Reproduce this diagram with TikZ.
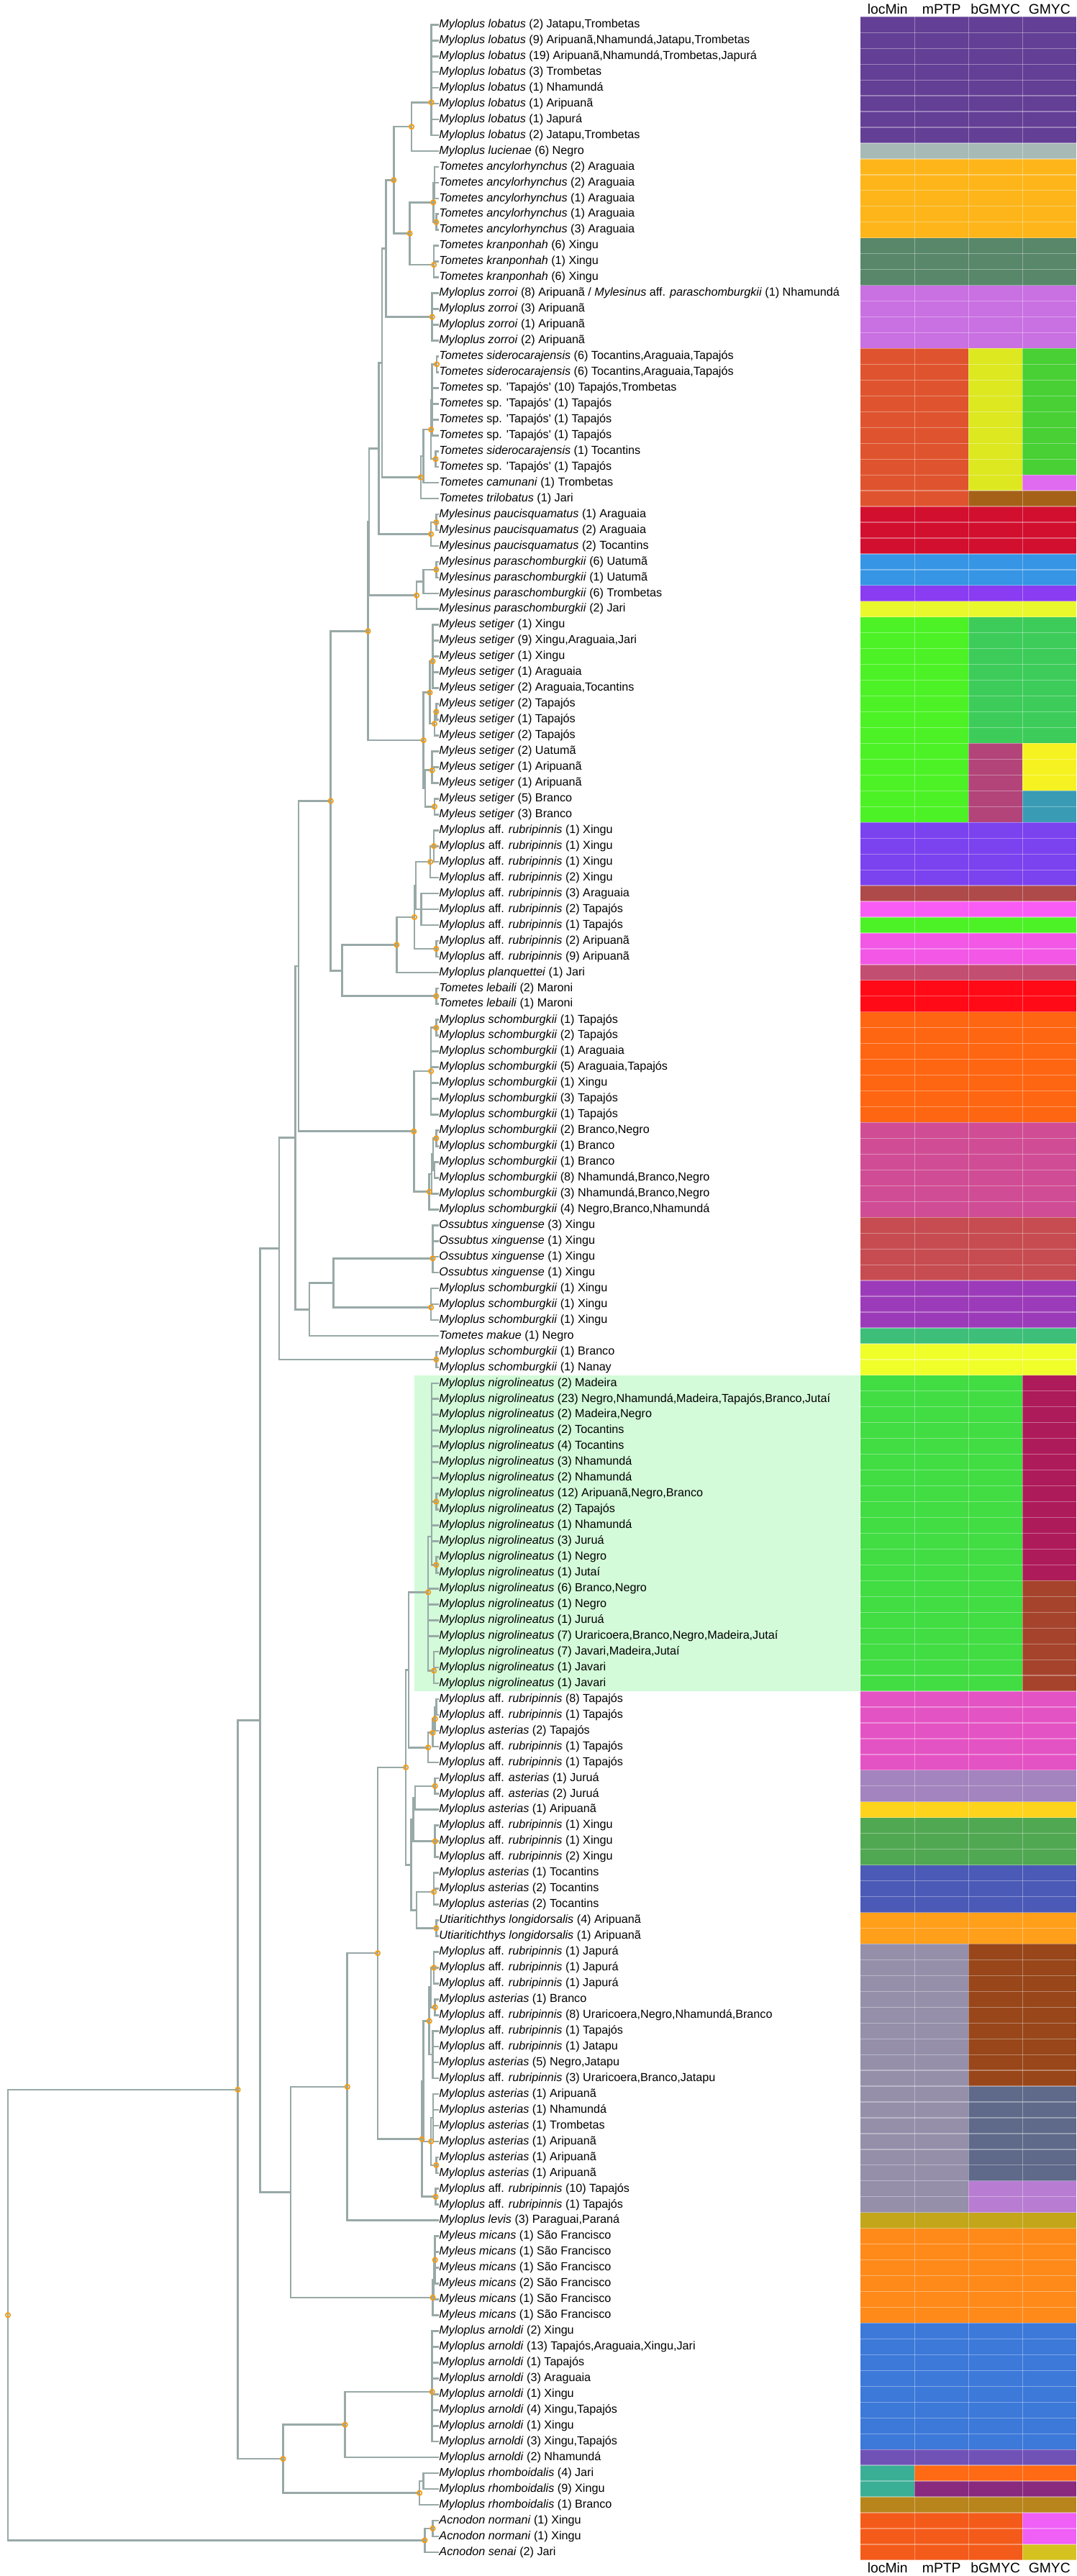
\documentclass[tikz,border=0pt]{standalone}
\usepackage{fontspec}
\setmainfont{Liberation Sans}
\usetikzlibrary{arrows.meta}
\definecolor{branch}{HTML}{98A9A7}
\definecolor{dotorange}{HTML}{F39C12}
\definecolor{hilite}{HTML}{D3FAD9}
\definecolor{cLob}{HTML}{643F96}
\definecolor{cLuc}{HTML}{A7BAB6}
\definecolor{cAnc}{HTML}{FDB51A}
\definecolor{cKra}{HTML}{58876A}
\definecolor{cZor}{HTML}{C970E2}
\definecolor{cSidA}{HTML}{DF542E}
\definecolor{cSidB}{HTML}{DDE820}
\definecolor{cSidC}{HTML}{48D035}
\definecolor{cCam}{HTML}{E06AF0}
\definecolor{cTri}{HTML}{A66119}
\definecolor{cPau}{HTML}{D20F2F}
\definecolor{cPaU}{HTML}{3695E4}
\definecolor{cPaT}{HTML}{8A3CF2}
\definecolor{cPaJ}{HTML}{E8F82C}
\definecolor{cSetA}{HTML}{4CF225}
\definecolor{cSetB}{HTML}{3DCC5A}
\definecolor{cSetR}{HTML}{B2447A}
\definecolor{cSetY}{HTML}{F6F221}
\definecolor{cSetT}{HTML}{3A9BB4}
\definecolor{cRubX}{HTML}{7B42EF}
\definecolor{cRubA}{HTML}{AE4A4A}
\definecolor{cRubT}{HTML}{F95CF4}
\definecolor{cRubR}{HTML}{F257E6}
\definecolor{cPla}{HTML}{C24E72}
\definecolor{cLeb}{HTML}{FF0A16}
\definecolor{cSchO}{HTML}{FF6612}
\definecolor{cSchP}{HTML}{D04D95}
\definecolor{cOss}{HTML}{C74C51}
\definecolor{cSchX}{HTML}{9C3BB9}
\definecolor{cMak}{HTML}{3DBE79}
\definecolor{cSchY}{HTML}{F0FE2A}
\definecolor{cNigG}{HTML}{41DD43}
\definecolor{cNigM}{HTML}{AE1B5A}
\definecolor{cNigB}{HTML}{A6432C}
\definecolor{cPk}{HTML}{E453C4}
\definecolor{cAsJ}{HTML}{A384BE}
\definecolor{cAsY}{HTML}{FED31C}
\definecolor{cRubXG}{HTML}{51A852}
\definecolor{cAsT}{HTML}{4B5AB6}
\definecolor{cUti}{HTML}{FF9F1A}
\definecolor{cGrey}{HTML}{958FAA}
\definecolor{cBrn}{HTML}{98461A}
\definecolor{cSlate}{HTML}{5F6A8A}
\definecolor{cLil}{HTML}{B87DD2}
\definecolor{cLev}{HTML}{C3A619}
\definecolor{cMic}{HTML}{FF8A1A}
\definecolor{cArn}{HTML}{3C79D9}
\definecolor{cArnN}{HTML}{7052B7}
\definecolor{cRhT}{HTML}{3BAE96}
\definecolor{cRhO}{HTML}{FF6A14}
\definecolor{cRhP}{HTML}{892A7F}
\definecolor{cRhB}{HTML}{B7851B}
\definecolor{cAcn}{HTML}{F45B1A}
\definecolor{cAcnP}{HTML}{F05FF6}
\definecolor{cAcnY}{HTML}{D5C21F}

\newcommand{\tips}[2]{\foreach \i in {#2} {\draw[br] (#1) |- (t\i.west);}}
\newcommand{\kids}[2]{\foreach \c in {#2} {\draw[br] (#1) |- (\c);}}

\begin{document}
\begin{tikzpicture}[
    x=0.02cm, y=-0.4392cm,
    br/.style={draw=branch, line width=1.5pt},
    lab/.style={anchor=west, inner sep=0pt, font=\fontsize{9.2pt}{11pt}\selectfont},
    hdr/.style={anchor=base, inner sep=0pt, font=\fontsize{11pt}{13pt}\selectfont},
    dot/.style={circle, draw=dotorange, line width=1pt, inner sep=0pt, minimum size=3.6pt},
    grid/.style={draw=white, draw opacity=0.35, line width=0.7pt}
  ]
  \useasboundingbox (0,-0.561) rectangle (1496,162.51);

  % highlighted clade
  \fill[hilite] (576,86.5) rectangle (1195,106.5);

  % delimitation columns
  \fill[cLob]  (1196,0.5) rectangle (1496,8.5);
  \fill[cLuc]  (1196,8.5) rectangle (1496,9.5);
  \fill[cAnc]  (1196,9.5) rectangle (1496,14.5);
  \fill[cKra]  (1196,14.5) rectangle (1496,17.5);
  \fill[cZor]  (1196,17.5) rectangle (1496,21.5);
  \fill[cSidA] (1196,21.5) rectangle (1346,31.5);
  \fill[cSidB] (1346,21.5) rectangle (1421,30.5);
  \fill[cSidC] (1421,21.5) rectangle (1496,29.5);
  \fill[cCam]  (1421,29.5) rectangle (1496,30.5);
  \fill[cTri]  (1346,30.5) rectangle (1496,31.5);
  \fill[cPau]  (1196,31.5) rectangle (1496,34.5);
  \fill[cPaU]  (1196,34.5) rectangle (1496,36.5);
  \fill[cPaT]  (1196,36.5) rectangle (1496,37.5);
  \fill[cPaJ]  (1196,37.5) rectangle (1496,38.5);
  \fill[cSetA] (1196,38.5) rectangle (1346,51.5);
  \fill[cSetB] (1346,38.5) rectangle (1496,46.5);
  \fill[cSetR] (1346,46.5) rectangle (1421,51.5);
  \fill[cSetY] (1421,46.5) rectangle (1496,49.5);
  \fill[cSetT] (1421,49.5) rectangle (1496,51.5);
  \fill[cRubX] (1196,51.5) rectangle (1496,55.5);
  \fill[cRubA] (1196,55.5) rectangle (1496,56.5);
  \fill[cRubT] (1196,56.5) rectangle (1496,57.5);
  \fill[cSetA] (1196,57.5) rectangle (1496,58.5);
  \fill[cRubR] (1196,58.5) rectangle (1496,60.5);
  \fill[cPla]  (1196,60.5) rectangle (1496,61.5);
  \fill[cLeb]  (1196,61.5) rectangle (1496,63.5);
  \fill[cSchO] (1196,63.5) rectangle (1496,70.5);
  \fill[cSchP] (1196,70.5) rectangle (1496,76.5);
  \fill[cOss]  (1196,76.5) rectangle (1496,80.5);
  \fill[cSchX] (1196,80.5) rectangle (1496,83.5);
  \fill[cMak]  (1196,83.5) rectangle (1496,84.5);
  \fill[cSchY] (1196,84.5) rectangle (1496,86.5);
  \fill[cNigG] (1196,86.5) rectangle (1421,106.5);
  \fill[cNigM] (1421,86.5) rectangle (1496,99.5);
  \fill[cNigB] (1421,99.5) rectangle (1496,106.5);
  \fill[cPk]   (1196,106.5) rectangle (1496,111.5);
  \fill[cAsJ]  (1196,111.5) rectangle (1496,113.5);
  \fill[cAsY]  (1196,113.5) rectangle (1496,114.5);
  \fill[cRubXG] (1196,114.5) rectangle (1496,117.5);
  \fill[cAsT]  (1196,117.5) rectangle (1496,120.5);
  \fill[cUti]  (1196,120.5) rectangle (1496,122.5);
  \fill[cGrey] (1196,122.5) rectangle (1346,139.5);
  \fill[cBrn]  (1346,122.5) rectangle (1496,131.5);
  \fill[cSlate] (1346,131.5) rectangle (1496,137.5);
  \fill[cLil]  (1346,137.5) rectangle (1496,139.5);
  \fill[cLev]  (1196,139.5) rectangle (1496,140.5);
  \fill[cMic]  (1196,140.5) rectangle (1496,146.5);
  \fill[cArn]  (1196,146.5) rectangle (1496,154.5);
  \fill[cArnN] (1196,154.5) rectangle (1496,155.5);
  \fill[cRhT]  (1196,155.5) rectangle (1271,157.5);
  \fill[cRhO]  (1271,155.5) rectangle (1496,156.5);
  \fill[cRhP]  (1271,156.5) rectangle (1496,157.5);
  \fill[cRhB]  (1196,157.5) rectangle (1496,158.5);
  \fill[cAcn]  (1196,158.5) rectangle (1421,161.5);
  \fill[cAcnP] (1421,158.5) rectangle (1496,160.5);
  \fill[cAcnY] (1421,160.5) rectangle (1496,161.5);
  \foreach \r in {0,...,161} \draw[grid] (1196,\r+0.5) -- (1496,\r+0.5);
  \foreach \xc in {1271,1346,1421} \draw[grid] (\xc,0.5) -- (\xc,161.5);

  % column headers
  \node[hdr] (hl1) at (1233.5,0.35) {locMin};
  \node[hdr] (hm1) at (1308.5,0.35) {mPTP};
  \node[hdr] (hb1) at (1383.5,0.35) {bGMYC};
  \node[hdr] (hg1) at (1458.5,0.35) {GMYC};
  \node[hdr] (hl2) at (1233.5,162.3) {locMin};
  \node[hdr] (hm2) at (1308.5,162.3) {mPTP};
  \node[hdr] (hb2) at (1383.5,162.3) {bGMYC};
  \node[hdr] (hg2) at (1458.5,162.3) {GMYC};

  % tips
  \node[lab] (t1) at (610,1) {\textit{Myloplus lobatus} (2) Jatapu,Trombetas};
  \node[lab] (t2) at (610,2) {\textit{Myloplus lobatus} (9) Aripuanã,Nhamundá,Jatapu,Trombetas};
  \node[lab] (t3) at (610,3) {\textit{Myloplus lobatus} (19) Aripuanã,Nhamundá,Trombetas,Japurá};
  \node[lab] (t4) at (610,4) {\textit{Myloplus lobatus} (3) Trombetas};
  \node[lab] (t5) at (610,5) {\textit{Myloplus lobatus} (1) Nhamundá};
  \node[lab] (t6) at (610,6) {\textit{Myloplus lobatus} (1) Aripuanã};
  \node[lab] (t7) at (610,7) {\textit{Myloplus lobatus} (1) Japurá};
  \node[lab] (t8) at (610,8) {\textit{Myloplus lobatus} (2) Jatapu,Trombetas};
  \node[lab] (t9) at (610,9) {\textit{Myloplus lucienae} (6) Negro};
  \node[lab] (t10) at (610,10) {\textit{Tometes ancylorhynchus} (2) Araguaia};
  \node[lab] (t11) at (610,11) {\textit{Tometes ancylorhynchus} (2) Araguaia};
  \node[lab] (t12) at (610,12) {\textit{Tometes ancylorhynchus} (1) Araguaia};
  \node[lab] (t13) at (610,13) {\textit{Tometes ancylorhynchus} (1) Araguaia};
  \node[lab] (t14) at (610,14) {\textit{Tometes ancylorhynchus} (3) Araguaia};
  \node[lab] (t15) at (610,15) {\textit{Tometes kranponhah} (6) Xingu};
  \node[lab] (t16) at (610,16) {\textit{Tometes kranponhah} (1) Xingu};
  \node[lab] (t17) at (610,17) {\textit{Tometes kranponhah} (6) Xingu};
  \node[lab] (t18) at (610,18) {\textit{Myloplus zorroi} (8) Aripuanã / \textit{Mylesinus} aff. \textit{paraschomburgkii} (1) Nhamundá};
  \node[lab] (t19) at (610,19) {\textit{Myloplus zorroi} (3) Aripuanã};
  \node[lab] (t20) at (610,20) {\textit{Myloplus zorroi} (1) Aripuanã};
  \node[lab] (t21) at (610,21) {\textit{Myloplus zorroi} (2) Aripuanã};
  \node[lab] (t22) at (610,22) {\textit{Tometes siderocarajensis} (6) Tocantins,Araguaia,Tapajós};
  \node[lab] (t23) at (610,23) {\textit{Tometes siderocarajensis} (6) Tocantins,Araguaia,Tapajós};
  \node[lab] (t24) at (610,24) {\textit{Tometes} sp. \textquotesingle Tapajós\textquotesingle\ (10) Tapajós,Trombetas};
  \node[lab] (t25) at (610,25) {\textit{Tometes} sp. \textquotesingle Tapajós\textquotesingle\ (1) Tapajós};
  \node[lab] (t26) at (610,26) {\textit{Tometes} sp. \textquotesingle Tapajós\textquotesingle\ (1) Tapajós};
  \node[lab] (t27) at (610,27) {\textit{Tometes} sp. \textquotesingle Tapajós\textquotesingle\ (1) Tapajós};
  \node[lab] (t28) at (610,28) {\textit{Tometes siderocarajensis} (1) Tocantins};
  \node[lab] (t29) at (610,29) {\textit{Tometes} sp. \textquotesingle Tapajós\textquotesingle\ (1) Tapajós};
  \node[lab] (t30) at (610,30) {\textit{Tometes camunani} (1) Trombetas};
  \node[lab] (t31) at (610,31) {\textit{Tometes trilobatus} (1) Jari};
  \node[lab] (t32) at (610,32) {\textit{Mylesinus paucisquamatus} (1) Araguaia};
  \node[lab] (t33) at (610,33) {\textit{Mylesinus paucisquamatus} (2) Araguaia};
  \node[lab] (t34) at (610,34) {\textit{Mylesinus paucisquamatus} (2) Tocantins};
  \node[lab] (t35) at (610,35) {\textit{Mylesinus paraschomburgkii} (6) Uatumã};
  \node[lab] (t36) at (610,36) {\textit{Mylesinus paraschomburgkii} (1) Uatumã};
  \node[lab] (t37) at (610,37) {\textit{Mylesinus paraschomburgkii} (6) Trombetas};
  \node[lab] (t38) at (610,38) {\textit{Mylesinus paraschomburgkii} (2) Jari};
  \node[lab] (t39) at (610,39) {\textit{Myleus setiger} (1) Xingu};
  \node[lab] (t40) at (610,40) {\textit{Myleus setiger} (9) Xingu,Araguaia,Jari};
  \node[lab] (t41) at (610,41) {\textit{Myleus setiger} (1) Xingu};
  \node[lab] (t42) at (610,42) {\textit{Myleus setiger} (1) Araguaia};
  \node[lab] (t43) at (610,43) {\textit{Myleus setiger} (2) Araguaia,Tocantins};
  \node[lab] (t44) at (610,44) {\textit{Myleus setiger} (2) Tapajós};
  \node[lab] (t45) at (610,45) {\textit{Myleus setiger} (1) Tapajós};
  \node[lab] (t46) at (610,46) {\textit{Myleus setiger} (2) Tapajós};
  \node[lab] (t47) at (610,47) {\textit{Myleus setiger} (2) Uatumã};
  \node[lab] (t48) at (610,48) {\textit{Myleus setiger} (1) Aripuanã};
  \node[lab] (t49) at (610,49) {\textit{Myleus setiger} (1) Aripuanã};
  \node[lab] (t50) at (610,50) {\textit{Myleus setiger} (5) Branco};
  \node[lab] (t51) at (610,51) {\textit{Myleus setiger} (3) Branco};
  \node[lab] (t52) at (610,52) {\textit{Myloplus} aff. \textit{rubripinnis} (1) Xingu};
  \node[lab] (t53) at (610,53) {\textit{Myloplus} aff. \textit{rubripinnis} (1) Xingu};
  \node[lab] (t54) at (610,54) {\textit{Myloplus} aff. \textit{rubripinnis} (1) Xingu};
  \node[lab] (t55) at (610,55) {\textit{Myloplus} aff. \textit{rubripinnis} (2) Xingu};
  \node[lab] (t56) at (610,56) {\textit{Myloplus} aff. \textit{rubripinnis} (3) Araguaia};
  \node[lab] (t57) at (610,57) {\textit{Myloplus} aff. \textit{rubripinnis} (2) Tapajós};
  \node[lab] (t58) at (610,58) {\textit{Myloplus} aff. \textit{rubripinnis} (1) Tapajós};
  \node[lab] (t59) at (610,59) {\textit{Myloplus} aff. \textit{rubripinnis} (2) Aripuanã};
  \node[lab] (t60) at (610,60) {\textit{Myloplus} aff. \textit{rubripinnis} (9) Aripuanã};
  \node[lab] (t61) at (610,61) {\textit{Myloplus planquettei} (1) Jari};
  \node[lab] (t62) at (610,62) {\textit{Tometes lebaili} (2) Maroni};
  \node[lab] (t63) at (610,63) {\textit{Tometes lebaili} (1) Maroni};
  \node[lab] (t64) at (610,64) {\textit{Myloplus schomburgkii} (1) Tapajós};
  \node[lab] (t65) at (610,65) {\textit{Myloplus schomburgkii} (2) Tapajós};
  \node[lab] (t66) at (610,66) {\textit{Myloplus schomburgkii} (1) Araguaia};
  \node[lab] (t67) at (610,67) {\textit{Myloplus schomburgkii} (5) Araguaia,Tapajós};
  \node[lab] (t68) at (610,68) {\textit{Myloplus schomburgkii} (1) Xingu};
  \node[lab] (t69) at (610,69) {\textit{Myloplus schomburgkii} (3) Tapajós};
  \node[lab] (t70) at (610,70) {\textit{Myloplus schomburgkii} (1) Tapajós};
  \node[lab] (t71) at (610,71) {\textit{Myloplus schomburgkii} (2) Branco,Negro};
  \node[lab] (t72) at (610,72) {\textit{Myloplus schomburgkii} (1) Branco};
  \node[lab] (t73) at (610,73) {\textit{Myloplus schomburgkii} (1) Branco};
  \node[lab] (t74) at (610,74) {\textit{Myloplus schomburgkii} (8) Nhamundá,Branco,Negro};
  \node[lab] (t75) at (610,75) {\textit{Myloplus schomburgkii} (3) Nhamundá,Branco,Negro};
  \node[lab] (t76) at (610,76) {\textit{Myloplus schomburgkii} (4) Negro,Branco,Nhamundá};
  \node[lab] (t77) at (610,77) {\textit{Ossubtus xinguense} (3) Xingu};
  \node[lab] (t78) at (610,78) {\textit{Ossubtus xinguense} (1) Xingu};
  \node[lab] (t79) at (610,79) {\textit{Ossubtus xinguense} (1) Xingu};
  \node[lab] (t80) at (610,80) {\textit{Ossubtus xinguense} (1) Xingu};
  \node[lab] (t81) at (610,81) {\textit{Myloplus schomburgkii} (1) Xingu};
  \node[lab] (t82) at (610,82) {\textit{Myloplus schomburgkii} (1) Xingu};
  \node[lab] (t83) at (610,83) {\textit{Myloplus schomburgkii} (1) Xingu};
  \node[lab] (t84) at (610,84) {\textit{Tometes makue} (1) Negro};
  \node[lab] (t85) at (610,85) {\textit{Myloplus schomburgkii} (1) Branco};
  \node[lab] (t86) at (610,86) {\textit{Myloplus schomburgkii} (1) Nanay};
  \node[lab] (t87) at (610,87) {\textit{Myloplus nigrolineatus} (2) Madeira};
  \node[lab] (t88) at (610,88) {\textit{Myloplus nigrolineatus} (23) Negro,Nhamundá,Madeira,Tapajós,Branco,Jutaí};
  \node[lab] (t89) at (610,89) {\textit{Myloplus nigrolineatus} (2) Madeira,Negro};
  \node[lab] (t90) at (610,90) {\textit{Myloplus nigrolineatus} (2) Tocantins};
  \node[lab] (t91) at (610,91) {\textit{Myloplus nigrolineatus} (4) Tocantins};
  \node[lab] (t92) at (610,92) {\textit{Myloplus nigrolineatus} (3) Nhamundá};
  \node[lab] (t93) at (610,93) {\textit{Myloplus nigrolineatus} (2) Nhamundá};
  \node[lab] (t94) at (610,94) {\textit{Myloplus nigrolineatus} (12) Aripuanã,Negro,Branco};
  \node[lab] (t95) at (610,95) {\textit{Myloplus nigrolineatus} (2) Tapajós};
  \node[lab] (t96) at (610,96) {\textit{Myloplus nigrolineatus} (1) Nhamundá};
  \node[lab] (t97) at (610,97) {\textit{Myloplus nigrolineatus} (3) Juruá};
  \node[lab] (t98) at (610,98) {\textit{Myloplus nigrolineatus} (1) Negro};
  \node[lab] (t99) at (610,99) {\textit{Myloplus nigrolineatus} (1) Jutaí};
  \node[lab] (t100) at (610,100) {\textit{Myloplus nigrolineatus} (6) Branco,Negro};
  \node[lab] (t101) at (610,101) {\textit{Myloplus nigrolineatus} (1) Negro};
  \node[lab] (t102) at (610,102) {\textit{Myloplus nigrolineatus} (1) Juruá};
  \node[lab] (t103) at (610,103) {\textit{Myloplus nigrolineatus} (7) Uraricoera,Branco,Negro,Madeira,Jutaí};
  \node[lab] (t104) at (610,104) {\textit{Myloplus nigrolineatus} (7) Javari,Madeira,Jutaí};
  \node[lab] (t105) at (610,105) {\textit{Myloplus nigrolineatus} (1) Javari};
  \node[lab] (t106) at (610,106) {\textit{Myloplus nigrolineatus} (1) Javari};
  \node[lab] (t107) at (610,107) {\textit{Myloplus} aff. \textit{rubripinnis} (8) Tapajós};
  \node[lab] (t108) at (610,108) {\textit{Myloplus} aff. \textit{rubripinnis} (1) Tapajós};
  \node[lab] (t109) at (610,109) {\textit{Myloplus asterias} (2) Tapajós};
  \node[lab] (t110) at (610,110) {\textit{Myloplus} aff. \textit{rubripinnis} (1) Tapajós};
  \node[lab] (t111) at (610,111) {\textit{Myloplus} aff. \textit{rubripinnis} (1) Tapajós};
  \node[lab] (t112) at (610,112) {\textit{Myloplus} aff. \textit{asterias} (1) Juruá};
  \node[lab] (t113) at (610,113) {\textit{Myloplus} aff. \textit{asterias} (2) Juruá};
  \node[lab] (t114) at (610,114) {\textit{Myloplus asterias} (1) Aripuanã};
  \node[lab] (t115) at (610,115) {\textit{Myloplus} aff. \textit{rubripinnis} (1) Xingu};
  \node[lab] (t116) at (610,116) {\textit{Myloplus} aff. \textit{rubripinnis} (1) Xingu};
  \node[lab] (t117) at (610,117) {\textit{Myloplus} aff. \textit{rubripinnis} (2) Xingu};
  \node[lab] (t118) at (610,118) {\textit{Myloplus asterias} (1) Tocantins};
  \node[lab] (t119) at (610,119) {\textit{Myloplus asterias} (2) Tocantins};
  \node[lab] (t120) at (610,120) {\textit{Myloplus asterias} (2) Tocantins};
  \node[lab] (t121) at (610,121) {\textit{Utiaritichthys longidorsalis} (4) Aripuanã};
  \node[lab] (t122) at (610,122) {\textit{Utiaritichthys longidorsalis} (1) Aripuanã};
  \node[lab] (t123) at (610,123) {\textit{Myloplus} aff. \textit{rubripinnis} (1) Japurá};
  \node[lab] (t124) at (610,124) {\textit{Myloplus} aff. \textit{rubripinnis} (1) Japurá};
  \node[lab] (t125) at (610,125) {\textit{Myloplus} aff. \textit{rubripinnis} (1) Japurá};
  \node[lab] (t126) at (610,126) {\textit{Myloplus asterias} (1) Branco};
  \node[lab] (t127) at (610,127) {\textit{Myloplus} aff. \textit{rubripinnis} (8) Uraricoera,Negro,Nhamundá,Branco};
  \node[lab] (t128) at (610,128) {\textit{Myloplus} aff. \textit{rubripinnis} (1) Tapajós};
  \node[lab] (t129) at (610,129) {\textit{Myloplus} aff. \textit{rubripinnis} (1) Jatapu};
  \node[lab] (t130) at (610,130) {\textit{Myloplus asterias} (5) Negro,Jatapu};
  \node[lab] (t131) at (610,131) {\textit{Myloplus} aff. \textit{rubripinnis} (3) Uraricoera,Branco,Jatapu};
  \node[lab] (t132) at (610,132) {\textit{Myloplus asterias} (1) Aripuanã};
  \node[lab] (t133) at (610,133) {\textit{Myloplus asterias} (1) Nhamundá};
  \node[lab] (t134) at (610,134) {\textit{Myloplus asterias} (1) Trombetas};
  \node[lab] (t135) at (610,135) {\textit{Myloplus asterias} (1) Aripuanã};
  \node[lab] (t136) at (610,136) {\textit{Myloplus asterias} (1) Aripuanã};
  \node[lab] (t137) at (610,137) {\textit{Myloplus asterias} (1) Aripuanã};
  \node[lab] (t138) at (610,138) {\textit{Myloplus} aff. \textit{rubripinnis} (10) Tapajós};
  \node[lab] (t139) at (610,139) {\textit{Myloplus} aff. \textit{rubripinnis} (1) Tapajós};
  \node[lab] (t140) at (610,140) {\textit{Myloplus levis} (3) Paraguai,Paraná};
  \node[lab] (t141) at (610,141) {\textit{Myleus micans} (1) São Francisco};
  \node[lab] (t142) at (610,142) {\textit{Myleus micans} (1) São Francisco};
  \node[lab] (t143) at (610,143) {\textit{Myleus micans} (1) São Francisco};
  \node[lab] (t144) at (610,144) {\textit{Myleus micans} (2) São Francisco};
  \node[lab] (t145) at (610,145) {\textit{Myleus micans} (1) São Francisco};
  \node[lab] (t146) at (610,146) {\textit{Myleus micans} (1) São Francisco};
  \node[lab] (t147) at (610,147) {\textit{Myloplus arnoldi} (2) Xingu};
  \node[lab] (t148) at (610,148) {\textit{Myloplus arnoldi} (13) Tapajós,Araguaia,Xingu,Jari};
  \node[lab] (t149) at (610,149) {\textit{Myloplus arnoldi} (1) Tapajós};
  \node[lab] (t150) at (610,150) {\textit{Myloplus arnoldi} (3) Araguaia};
  \node[lab] (t151) at (610,151) {\textit{Myloplus arnoldi} (1) Xingu};
  \node[lab] (t152) at (610,152) {\textit{Myloplus arnoldi} (4) Xingu,Tapajós};
  \node[lab] (t153) at (610,153) {\textit{Myloplus arnoldi} (1) Xingu};
  \node[lab] (t154) at (610,154) {\textit{Myloplus arnoldi} (3) Xingu,Tapajós};
  \node[lab] (t155) at (610,155) {\textit{Myloplus arnoldi} (2) Nhamundá};
  \node[lab] (t156) at (610,156) {\textit{Myloplus rhomboidalis} (4) Jari};
  \node[lab] (t157) at (610,157) {\textit{Myloplus rhomboidalis} (9) Xingu};
  \node[lab] (t158) at (610,158) {\textit{Myloplus rhomboidalis} (1) Branco};
  \node[lab] (t159) at (610,159) {\textit{Acnodon normani} (1) Xingu};
  \node[lab] (t160) at (610,160) {\textit{Acnodon normani} (1) Xingu};
  \node[lab] (t161) at (610,161) {\textit{Acnodon senai} (2) Jari};

  % internal nodes
  \coordinate (L) at (599.5,5.92);
  \coordinate (LL) at (571.9,7.46);
  \coordinate (A1) at (604,11);
  \coordinate (A2) at (606.2,13.5);
  \coordinate (A) at (602.2,12.25);
  \coordinate (K) at (603,16.2);
  \coordinate (AK) at (569.5,14.22);
  \coordinate (N10) at (547.2,10.84);
  \coordinate (Z) at (600.6,19.5);
  \coordinate (N15) at (536.5,15.17);
  \coordinate (T6) at (607,22.5);
  \coordinate (T4) at (600.6,24.75);
  \coordinate (T5) at (605.4,28.5);
  \coordinate (T3) at (599,26.63);
  \coordinate (T2) at (588.6,28.31);
  \coordinate (T) at (584.7,29.66);
  \coordinate (N22) at (531,22.41);
  \coordinate (P2) at (606.2,32.5);
  \coordinate (P) at (599,33.25);
  \coordinate (N28) at (526.5,27.83);
  \coordinate (PA3) at (606.2,35.5);
  \coordinate (PA2) at (588.6,36.25);
  \coordinate (PA) at (579,37.13);
  \coordinate (N32) at (513,32.48);
  \coordinate (S1a) at (601.4,41.3);
  \coordinate (S1c) at (606.2,44.5);
  \coordinate (S1b) at (603.8,45.25);
  \coordinate (S1) at (597.4,43.28);
  \coordinate (S2) at (600.6,48.2);
  \coordinate (S3) at (603.8,50.5);
  \coordinate (S23) at (591,49.35);
  \coordinate (S) at (588.6,46.3);
  \coordinate (N39) at (511.4,39.39);
  \coordinate (RXs) at (603,53);
  \coordinate (RX) at (598,54);
  \coordinate (RM) at (585.5,57);
  \coordinate (R1a) at (578,55.5);
  \coordinate (RP) at (606.2,59.5);
  \coordinate (R1) at (575.9,57.5);
  \coordinate (R) at (551.2,59.25);
  \coordinate (LB) at (606.2,62.5);
  \coordinate (C2) at (475.5,60.88);
  \coordinate (N50) at (459.6,50.14);
  \coordinate (SC1a) at (606.2,64.5);
  \coordinate (SC1) at (599,67.25);
  \coordinate (P71) at (606.2,71.5);
  \coordinate (P73) at (604,73.5);
  \coordinate (SC2a) at (602,72.5);
  \coordinate (SC2x) at (600,73.75);
  \coordinate (SC2) at (596.6,74.88);
  \coordinate (SC) at (575.1,71.06);
  \coordinate (N61) at (415,60.6);
  \coordinate (OS) at (601.4,79.1);
  \coordinate (SX) at (599,82.2);
  \coordinate (N81) at (463.5,80.65);
  \coordinate (N82) at (430,82.33);
  \coordinate (N72) at (410.2,71.46);
  \coordinate (BN) at (606.2,85.5);
  \coordinate (N78) at (387.8,78.48);
  \coordinate (P94) at (606.2,94.5);
  \coordinate (P98) at (606.2,98.5);
  \coordinate (NGa) at (600,96.7);
  \coordinate (JV) at (603,105.2);
  \coordinate (NG) at (595,100.23);
  \coordinate (PKc) at (606.6,107.5);
  \coordinate (PKb) at (604.6,108.25);
  \coordinate (PKa) at (601.4,109.13);
  \coordinate (PK) at (595,110.06);
  \coordinate (NGPK) at (568,105.15);
  \coordinate (JU) at (604.6,112.5);
  \coordinate (LCa) at (577,113.25);
  \coordinate (XI) at (604.6,116);
  \coordinate (LCc) at (574.5,114.63);
  \coordinate (TO) at (603,119.2);
  \coordinate (UT) at (606.2,121.5);
  \coordinate (TU) at (579,120.35);
  \coordinate (LC) at (571.5,117.49);
  \coordinate (N116) at (564,111.32);
  \coordinate (JA) at (603,124);
  \coordinate (P126) at (604.6,126.5);
  \coordinate (N125) at (598.8,125.25);
  \coordinate (N129) at (601.4,129.5);
  \coordinate (N127) at (596.6,127.38);
  \coordinate (AS1) at (602,133.5);
  \coordinate (P136) at (606.2,136.5);
  \coordinate (AS) at (599,135);
  \coordinate (N127p) at (588.6,131.19);
  \coordinate (RT) at (605.4,138.5);
  \coordinate (N131b) at (586.3,134.85);
  \coordinate (N121) at (524.9,123.08);
  \coordinate (N131) at (482.7,131.54);
  \coordinate (MIa) at (604.6,142.5);
  \coordinate (MIb) at (603,143.75);
  \coordinate (MI) at (601.4,144.88);
  \coordinate (N138) at (403.8,138.21);
  \coordinate (N108) at (361.5,108.35);
  \coordinate (AR) at (600.6,150.85);
  \coordinate (N151) at (479.5,152.93);
  \coordinate (RHa) at (588.6,156.5);
  \coordinate (RH) at (583,157.25);
  \coordinate (N155) at (393.4,155.09);
  \coordinate (N130) at (330.5,131.72);
  \coordinate (AN) at (601.4,159.5);
  \coordinate (ACN) at (590.2,160.25);
  \coordinate (root) at (11,145.99);

  % branches
  \tips{L}{1,...,8}
  \kids{LL}{L,t9.west}
  \tips{A1}{10,11,12}
  \tips{A2}{13,14}
  \kids{A}{A1,A2}
  \tips{K}{15,16,17}
  \kids{AK}{A,K}
  \kids{N10}{LL,AK}
  \tips{Z}{18,...,21}
  \kids{N15}{N10,Z}
  \tips{T6}{22,23}
  \kids{T4}{T6,t24.west,t25.west,t26.west,t27.west}
  \tips{T5}{28,29}
  \kids{T3}{T4,T5}
  \kids{T2}{T3,t30.west}
  \kids{T}{T2,t31.west}
  \kids{N22}{N15,T}
  \tips{P2}{32,33}
  \kids{P}{P2,t34.west}
  \kids{N28}{N22,P}
  \tips{PA3}{35,36}
  \kids{PA2}{PA3,t37.west}
  \kids{PA}{PA2,t38.west}
  \kids{N32}{N28,PA}
  \tips{S1a}{39,...,43}
  \tips{S1c}{44,45}
  \kids{S1b}{S1c,t46.west}
  \kids{S1}{S1a,S1b}
  \tips{S2}{47,48,49}
  \tips{S3}{50,51}
  \kids{S23}{S2,S3}
  \kids{S}{S1,S23}
  \kids{N39}{N32,S}
  \tips{RXs}{52,53,54}
  \kids{RX}{RXs,t55.west}
  \tips{RM}{56,57,58}
  \kids{R1a}{RX,RM}
  \tips{RP}{59,60}
  \kids{R1}{R1a,RP}
  \kids{R}{R1,t61.west}
  \tips{LB}{62,63}
  \kids{C2}{R,LB}
  \kids{N50}{N39,C2}
  \tips{SC1a}{64,65}
  \kids{SC1}{SC1a,t66.west,t67.west,t68.west,t69.west,t70.west}
  \tips{P71}{71,72}
  \tips{P73}{73,74}
  \kids{SC2a}{P71,P73}
  \kids{SC2x}{SC2a,t75.west}
  \kids{SC2}{SC2x,t76.west}
  \kids{SC}{SC1,SC2}
  \kids{N61}{N50,SC}
  \tips{OS}{77,...,80}
  \tips{SX}{81,82,83}
  \kids{N81}{OS,SX}
  \kids{N82}{N81,t84.west}
  \kids{N72}{N61,N82}
  \tips{BN}{85,86}
  \kids{N78}{N72,BN}
  \tips{P94}{94,95}
  \tips{P98}{98,99}
  \tips{NGa}{87,88,89,90,91,92,93,96,97}
  \kids{NGa}{P94,P98}
  \tips{JV}{104,105,106}
  \tips{NG}{100,101,102,103}
  \kids{NG}{NGa,JV}
  \tips{PKc}{107,108}
  \kids{PKb}{PKc,t109.west}
  \kids{PKa}{PKb,t110.west}
  \kids{PK}{PKa,t111.west}
  \kids{NGPK}{NG,PK}
  \tips{JU}{112,113}
  \kids{LCa}{JU,t114.west}
  \tips{XI}{115,116,117}
  \kids{LCc}{LCa,XI}
  \tips{TO}{118,119,120}
  \tips{UT}{121,122}
  \kids{TU}{TO,UT}
  \kids{LC}{LCc,TU}
  \kids{N116}{NGPK,LC}
  \tips{JA}{123,124,125}
  \tips{P126}{126,127}
  \kids{N125}{JA,P126}
  \tips{N129}{128,129,130,131}
  \kids{N127}{N125,N129}
  \tips{AS1}{132,133,134,135}
  \tips{P136}{136,137}
  \kids{AS}{AS1,P136}
  \kids{N127p}{N127,AS}
  \tips{RT}{138,139}
  \kids{N131b}{N127p,RT}
  \kids{N121}{N116,N131b}
  \kids{N131}{N121,t140.west}
  \tips{MIa}{141,...,144}
  \kids{MIb}{MIa,t145.west}
  \kids{MI}{MIb,t146.west}
  \kids{N138}{N131,MI}
  \kids{N108}{N78,N138}
  \tips{AR}{147,...,154}
  \kids{N151}{AR,t155.west}
  \tips{RHa}{156,157}
  \kids{RH}{RHa,t158.west}
  \kids{N155}{N151,RH}
  \kids{N130}{N108,N155}
  \tips{AN}{159,160}
  \kids{ACN}{AN,t161.west}
  \kids{root}{N130,ACN}

  % support marks
  \foreach \nd in {L,LL,N10,A,A2,AK,K,Z,T6,T3,T5,T,P2,P,PA3,PA,N39,S1a,S1,S1c,S1b,S,S2,N50,S3,
                   RXs,RX,R1,R,RP,LB,SC1a,SC1,SC,P71,SC2,OS,SX,BN,P94,P98,NG,JV,PKb,PKa,PK,N116,
                   JU,XI,TO,UT,N121,JA,P126,N127,N130,N131,N131b,AS,P136,RT,MIa,MI,AR,N151,N155,
                   RH,AN,ACN,root}
    \node[dot] (d\nd) at (\nd) {};

\end{tikzpicture}
\end{document}
